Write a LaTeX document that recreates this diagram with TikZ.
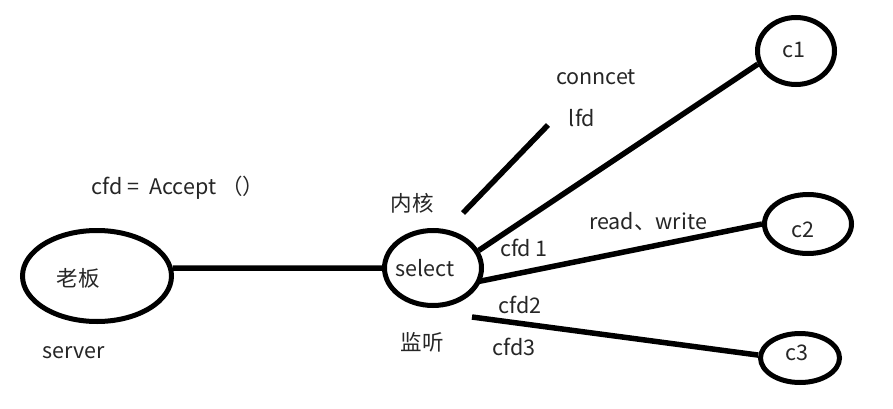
\documentclass[tikz,border=0pt]{standalone}
\usepackage{fontspec}
\setmainfont{Noto Sans CJK SC}
\usetikzlibrary{shapes.geometric}
\begin{document}
\begin{tikzpicture}[x=1pt,y=-1pt,
  bub/.style={ellipse,draw,line width=5pt,inner sep=0pt},
  txt/.style={inner sep=0pt,text=black!85,font=\fontsize{21.5}{25}\selectfont},
  wire/.style={line width=5.5pt}]
\useasboundingbox[fill=white] (0,0) rectangle (893,409);

% bubbles
\node[bub,minimum width=149pt,minimum height=91pt] (lb) at (97,276) {};
\node[bub,minimum width=97pt,minimum height=75pt] (sel) at (433,268) {};
\node[bub,minimum width=77pt,minimum height=67pt] (c1) at (796,51) {};
\node[bub,minimum width=87pt,minimum height=59pt] (c2) at (808,224) {};
\node[bub,minimum width=79pt,minimum height=49pt] (c3) at (800,358) {};

% bubble texts
\node[txt] (tlb) at (78,278) {老板};
\node[txt] (tsel) at (425,268) {select};
\node[txt] (tc1) at (794,50) {c1};
\node[txt] (tc2) at (803,230) {c2};
\node[txt] (tc3) at (797,353) {c3};

% other labels
\node[txt] (acc) at (178,188) {cfd =\ \ Accept\ （）};
\node[txt] (srv) at (74,353) {server};
\node[txt] (nh) at (412,203) {内核};
\node[txt] (jt) at (422,342) {监听};
\node[txt] (cfd1) at (524,248) {cfd 1};
\node[txt] (cfd2) at (520,305) {cfd2};
\node[txt] (cfd3) at (514,347) {cfd3};
\node[txt] (con) at (596,77) {conncet};
\node[txt] (lfd) at (582,118) {lfd};
\node[txt] (rw) at (648,222) {read、write};

% connectors
\coordinate (lfdA) at (463,213);
\coordinate (lfdB) at (548,125);
\coordinate (s3) at (472,317);
\draw[wire] (lb.6) -- (sel.west);
\draw[wire] (lfdA) -- (lfdB);
\draw[wire] (sel.21) -- (c1.199);
\draw[wire,shorten <=-3pt] (sel.-15) -- (c2.180);
\draw[wire] (s3) -- (c3.176);
\end{tikzpicture}
\end{document}
